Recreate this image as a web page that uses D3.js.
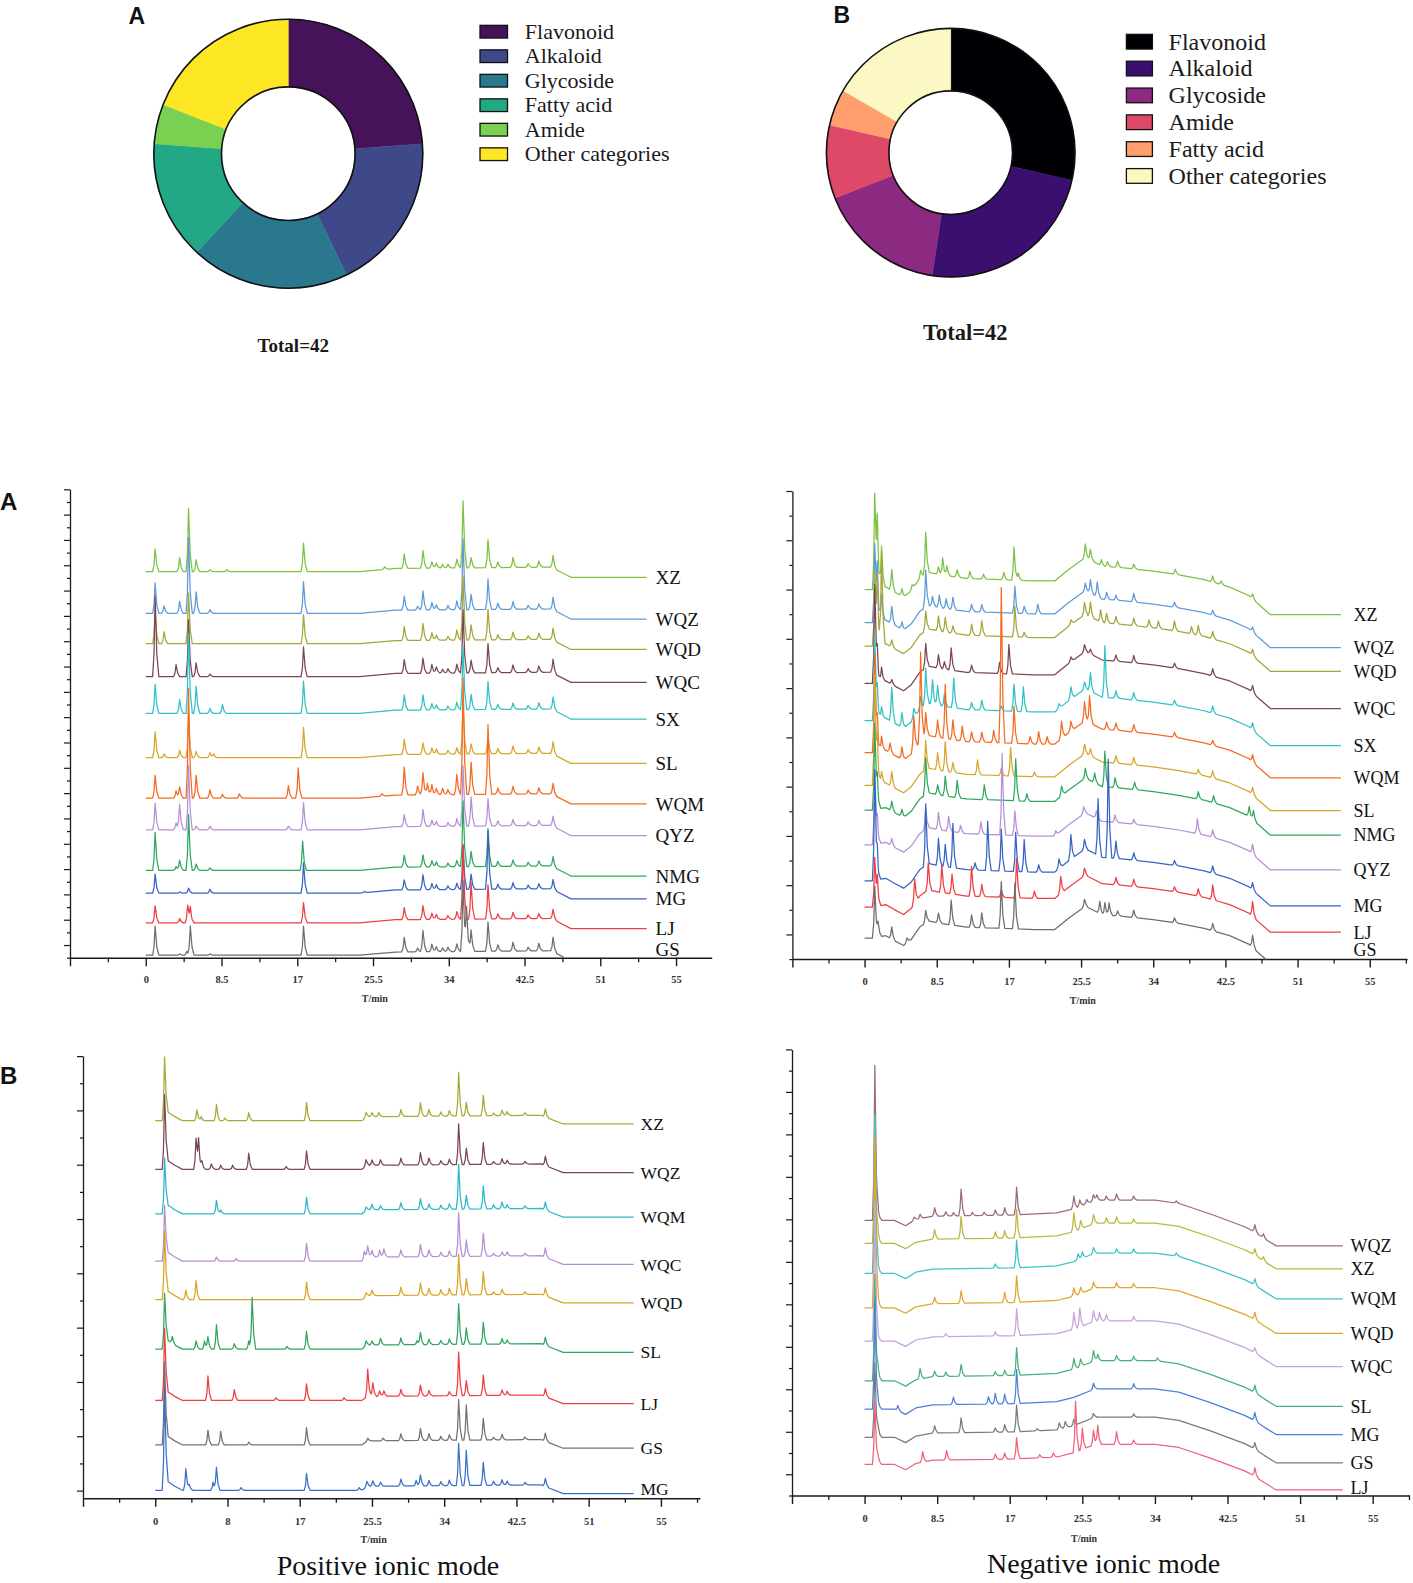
<!DOCTYPE html>
<html>
<head>
<meta charset="utf-8">
<script src="https://cdn.jsdelivr.net/npm/d3@7"></script>
<style>
  body { margin: 0; background: #fff; }
  svg { display: block; }
</style>
</head>
<body>
<div id="figure"></div>
<script>
// ---- donut data ----
const donutCategoriesA = ["Flavonoid", "Alkaloid", "Glycoside", "Fatty acid", "Amide", "Other categories"];
const donutCountsA = [10, 8, 8, 6, 2, 8];
const donutColorsA = ["#46135a", "#3f4889", "#2a788e", "#22a884", "#7ad151", "#fde725"];

const donutCategoriesB = ["Flavonoid", "Alkaloid", "Glycoside", "Amide", "Fatty acid", "Other categories"];
const donutCountsB = [12, 10, 7, 4, 2, 7];
const donutColorsB = ["#000004", "#3b0f70", "#8c2981", "#de4968", "#fe9f6d", "#fcf8c4"];

// ---- chromatogram tick labels ----
const tickLabelsA = ["0", "8.5", "17", "25.5", "34", "42.5", "51", "55"];
const tickLabelsPosB = ["0", "8", "17", "25.5", "34", "42.5", "51", "55"];
const tickLabelsNegB = ["0", "8.5", "17", "25.5", "34", "42.5", "51", "55"];

// ---- A, positive mode ----
const posASamples = ["XZ", "WQZ", "WQD", "WQC", "SX", "SL", "WQM", "QYZ", "NMG", "MG", "LJ", "GS"];
const posAColors = ["#7cc243", "#5d9bd8", "#a4a638", "#7a4652", "#30c2c6", "#d6a62a", "#f46a22", "#b590d8", "#2fa85f", "#3563c6", "#ef3d40", "#6e6e6e"];
const posABase = [30.5, 27.2, 24.8, 22.2, 19.3, 15.8, 12.6, 10.1, 6.9, 5.1, 2.75, 0.2];
const posAEnd = [56.2, 56.2, 56.2, 56.2, 56.2, 56.2, 56.2, 56.2, 56.2, 56.2, 56.2, 46.9];
const posAProfileT = [0, 24, 28, 45.5, 47.7, 56.2];
const posAProfileV = [0, 0, 0.25, 0.35, -0.45, -0.45];
const posAPeaks = [
  [[1.05,1.8],[3.8,1.1],[4.8,5.0],[5.65,0.95],[7.2,0.15],[9.1,0.15],[17.7,2.25],[26.8,0.2],[29.0,1.15],[31.1,1.4],[32.1,0.5],[32.6,0.4],[33.3,0.3],[33.9,0.3],[34.9,0.7],[35.6,5.3],[36.5,0.8],[38.4,2.2],[39.5,0.45],[41.2,0.8],[42.9,0.3],[44.1,0.5],[45.7,1.0]],
  [[1.05,2.4],[2.05,0.6],[3.8,0.95],[4.8,6.0],[5.65,1.7],[7.2,0.3],[17.7,2.5],[29.0,1.1],[30.5,0.3],[31.1,1.5],[32.1,0.6],[32.6,0.4],[33.9,0.35],[34.9,0.7],[35.6,5.6],[36.5,1.2],[38.4,2.4],[39.5,0.5],[41.2,0.6],[42.9,0.3],[44.1,0.4],[45.7,1.0]],
  [[1.05,2.4],[2.05,0.95],[4.8,4.0],[17.7,2.3],[29.0,1.1],[31.1,1.35],[32.1,0.6],[32.6,0.4],[33.9,0.3],[34.9,0.8],[35.6,5.0],[36.5,1.2],[38.4,2.4],[39.5,0.4],[41.2,0.6],[42.9,0.3],[44.1,0.5],[45.7,0.95]],
  [[1.05,6.4],[3.4,0.95],[4.8,4.5],[5.65,1.1],[7.2,0.2],[17.7,2.35],[29.0,1.1],[31.1,1.2],[32.1,0.7],[32.6,0.5],[33.3,0.3],[33.9,0.35],[34.9,0.7],[35.6,5.0],[36.5,1.0],[38.4,2.3],[39.5,0.4],[41.2,0.6],[42.9,0.3],[44.1,0.5],[45.7,1.1]],
  [[1.05,2.3],[3.8,1.1],[4.8,6.3],[5.65,2.15],[7.2,0.4],[8.6,0.7],[17.7,2.55],[29.0,1.2],[31.1,1.2],[32.1,0.5],[32.6,0.4],[33.9,0.3],[34.9,0.6],[35.6,5.0],[36.5,1.2],[38.4,2.2],[39.5,0.4],[41.2,0.5],[42.9,0.3],[44.1,0.5],[45.7,1.0]],
  [[1.05,2.05],[2.05,0.3],[3.8,0.6],[4.8,3.0],[5.65,0.5],[7.2,0.4],[7.6,0.3],[17.7,2.4],[29.0,1.2],[31.1,0.9],[32.1,0.5],[32.6,0.4],[33.9,0.3],[34.9,0.5],[35.6,4.0],[36.5,0.8],[38.4,1.3],[39.5,0.4],[41.2,0.6],[42.9,0.3],[44.1,0.5],[45.7,1.0]],
  [[1.05,1.8],[3.4,0.6],[3.8,0.9],[4.8,8.7],[5.65,1.8],[7.2,0.65],[8.6,0.3],[10.5,0.35],[16.0,1.0],[17.1,2.4],[26.5,0.2],[29.0,2.2],[30.5,0.7],[31.1,1.75],[31.6,0.9],[32.1,0.8],[32.6,0.5],[33.3,0.5],[33.9,0.4],[34.9,1.6],[35.6,9.2],[36.5,2.55],[38.4,5.5],[39.5,0.5],[41.2,0.6],[42.9,0.3],[44.1,0.5],[45.7,0.9]],
  [[1.05,2.1],[3.4,0.55],[3.8,2.0],[4.8,5.1],[5.65,0.3],[7.2,0.3],[16.0,0.3],[17.7,2.15],[29.0,0.95],[31.1,1.35],[32.1,0.5],[32.6,0.4],[33.9,0.3],[34.9,0.6],[35.6,4.8],[36.5,2.3],[38.4,2.15],[39.5,0.4],[41.2,0.5],[42.9,0.3],[44.1,0.4],[45.7,0.8]],
  [[1.05,3.0],[3.4,0.3],[3.8,0.8],[4.8,4.4],[5.65,0.5],[7.2,0.2],[17.6,2.3],[29.0,0.95],[31.1,0.95],[32.1,0.5],[32.6,0.4],[33.9,0.3],[34.9,0.5],[35.6,5.2],[36.5,1.2],[38.4,3.0],[39.5,0.4],[41.2,0.5],[42.9,0.3],[44.1,0.4],[45.7,0.8]],
  [[1.05,1.5],[3.8,0.1],[4.8,0.4],[7.2,0.3],[17.7,2.4],[24.5,0.1],[29.0,0.8],[31.1,1.2],[32.1,0.5],[32.6,0.4],[33.9,0.3],[34.9,0.5],[35.6,3.5],[36.5,1.2],[38.4,4.6],[39.5,0.4],[41.2,0.5],[42.9,0.3],[44.1,0.4],[45.7,0.8]],
  [[1.05,1.35],[3.8,0.35],[4.7,1.4],[5.0,1.1],[17.7,1.6],[29.0,0.95],[31.1,1.1],[32.1,0.5],[32.6,0.4],[33.9,0.3],[34.9,0.6],[35.6,5.9],[36.5,2.9],[38.4,2.7],[39.5,0.4],[41.2,0.5],[42.9,0.3],[44.1,0.4],[45.7,0.8]],
  [[1.05,2.3],[3.8,0.1],[4.6,0.3],[5.0,2.3],[7.2,0.1],[17.7,2.3],[29.0,1.15],[30.5,0.3],[31.1,1.7],[32.1,0.6],[32.6,0.4],[33.3,0.3],[33.9,0.35],[34.9,0.6],[35.6,5.6],[36.0,3.4],[36.5,1.7],[38.4,2.3],[39.5,0.5],[41.2,0.7],[42.9,0.3],[44.1,0.6],[45.7,1.15]]
];

// ---- A, negative mode ----
const negASamples = ["XZ", "WQZ", "WQD", "WQC", "SX", "WQM", "SL", "NMG", "QYZ", "MG", "LJ", "GS"];
const negAColors = ["#7cc243", "#5d9bd8", "#a4a638", "#7a4652", "#30c2c6", "#f46a22", "#d6a62a", "#2fa85f", "#b590d8", "#3563c6", "#ef3d40", "#6e6e6e"];
const negABase = [15.0, 13.66, 12.7, 11.19, 9.68, 8.38, 7.05, 6.05, 4.64, 3.18, 2.11, 0.85];
const negAEnd = [56.1, 56.1, 56.1, 56.1, 56.1, 56.1, 56.1, 56.1, 56.1, 56.1, 56.1, 47.3];
const negAProfileT = [0, 0.9, 2.5, 3.5, 4.6, 5.5, 6.5, 7.5, 9, 12, 16, 20, 22.4, 24, 26, 28, 30, 34, 37, 40, 43, 45.3, 46.4, 47.8, 56.1];
const negAProfileV = [0, 0, 0.1, -0.1, -0.3, -0.05, 0.45, 0.7, 0.6, 0.45, 0.4, 0.35, 0.35, 0.8, 1.3, 0.95, 0.9, 0.75, 0.6, 0.4, 0.1, -0.25, -0.6, -1.02, -1.02];
const negAPeaks = [
  [[1.2,3.9],[1.5,2.5],[2.0,1.7],[3.2,0.85],[4.4,0.3],[5.6,0.2],[6.6,0.3],[7.2,1.7],[8.7,0.3],[9.2,0.7],[9.7,0.4],[10.9,0.3],[12.4,0.3],[14.0,0.2],[16.4,0.3],[17.6,1.35],[18.1,0.3],[26.0,0.55],[26.6,0.45],[27.9,0.25],[28.6,0.2],[29.8,0.25],[31.7,0.2],[36.6,0.2],[41.0,0.25],[42.0,0.15],[45.7,0.2]],
  [[1.2,3.2],[1.5,2.0],[2.0,1.1],[3.2,0.7],[4.4,0.3],[7.2,1.5],[8.0,0.4],[8.8,0.5],[9.6,0.4],[10.4,0.5],[12.6,0.3],[13.8,0.3],[17.7,1.1],[18.8,0.3],[20.4,0.4],[26.0,0.3],[26.6,0.55],[27.4,0.6],[28.5,0.3],[29.6,0.2],[31.7,0.35],[36.5,0.2],[41.0,0.2],[45.7,0.2]],
  [[1.2,3.0],[1.5,2.5],[2.0,3.8],[3.2,0.3],[7.2,0.8],[8.7,0.6],[9.5,0.6],[10.4,0.3],[12.6,0.45],[13.8,0.6],[17.7,1.25],[18.8,0.2],[24.3,0.2],[25.9,0.5],[26.6,0.6],[27.8,0.5],[28.5,0.4],[29.6,0.3],[31.7,0.3],[33.5,0.3],[34.6,0.3],[36.5,0.4],[38.5,0.3],[39.3,0.4],[41.0,0.3],[45.7,0.25]],
  [[1.2,4.0],[1.5,1.0],[2.0,0.6],[3.2,0.2],[7.2,1.0],[8.7,0.55],[9.4,0.3],[10.2,0.9],[12.6,0.3],[15.9,0.45],[17.0,1.2],[24.3,0.2],[25.9,0.3],[26.6,0.2],[29.6,0.25],[31.7,0.3],[36.5,0.2],[41.0,0.3],[45.7,0.3]],
  [[1.2,3.5],[1.5,1.0],[2.0,0.5],[3.2,1.4],[4.4,0.6],[5.8,0.4],[6.6,0.5],[7.2,1.5],[8.0,1.0],[8.6,0.8],[9.4,0.5],[10.5,1.2],[12.6,0.3],[13.8,0.4],[16.1,0.2],[17.6,1.1],[18.7,1.0],[22.9,0.2],[24.3,0.5],[25.9,0.3],[26.6,0.75],[28.3,2.1],[29.6,0.3],[31.7,0.3],[36.5,0.2],[41.0,0.3],[45.7,0.3]],
  [[1.2,4.0],[1.5,1.0],[2.0,0.6],[3.0,0.4],[4.4,0.5],[5.8,1.4],[6.6,3.6],[7.2,1.0],[8.6,0.7],[9.5,2.2],[10.4,0.8],[11.5,0.6],[12.6,0.4],[13.8,0.4],[15.2,0.5],[16.1,6.3],[17.6,1.5],[19.5,0.3],[20.5,0.5],[21.5,0.3],[23.2,0.7],[24.3,0.4],[25.9,0.8],[26.5,1.1],[28.5,0.3],[29.6,0.3],[31.7,0.3],[36.5,0.2],[41.0,0.2],[45.7,0.3]],
  [[1.2,4.5],[1.5,1.5],[2.0,0.5],[3.2,0.6],[7.2,1.2],[8.6,0.7],[9.5,1.2],[10.4,0.4],[13.3,0.6],[16.1,0.3],[17.2,1.15],[20.0,0.2],[25.9,0.4],[26.6,0.3],[29.6,0.3],[31.7,0.3],[39.3,0.2],[41.0,0.3],[45.7,0.3]],
  [[1.2,3.5],[1.5,1.0],[3.2,0.4],[4.4,0.3],[7.2,1.5],[8.6,0.4],[9.5,0.8],[10.9,0.7],[14.1,0.6],[17.8,1.7],[19.1,0.3],[23.2,0.4],[26.0,0.4],[27.1,0.4],[28.3,1.45],[29.5,0.4],[31.8,0.3],[39.3,0.3],[41.1,0.3],[45.3,0.4],[45.8,0.4]],
  [[1.2,3.0],[1.5,0.8],[3.2,0.3],[7.2,0.9],[8.7,0.7],[9.9,0.6],[11.3,0.3],[13.7,0.5],[16.2,3.3],[17.7,1.0],[22.5,0.2],[25.8,0.3],[27.3,0.3],[29.5,0.3],[31.7,0.2],[39.2,0.6],[41.0,0.3],[45.7,0.4]],
  [[1.2,4.5],[1.5,0.8],[7.2,2.5],[8.7,1.1],[9.5,0.9],[10.4,1.8],[13.0,0.3],[14.5,2.0],[16.1,1.7],[17.8,1.6],[18.8,1.3],[20.5,0.3],[22.9,0.4],[24.3,1.0],[25.9,0.4],[27.5,2.3],[28.7,4.0],[29.6,0.7],[31.7,0.3],[36.5,0.2],[41.0,0.3],[45.7,0.3]],
  [[1.2,2.0],[1.5,1.0],[5.9,1.0],[7.5,1.1],[9.1,1.1],[10.3,0.8],[12.6,1.2],[13.8,0.5],[16.1,0.3],[17.9,1.6],[20.0,0.3],[23.1,0.7],[25.9,0.3],[29.6,0.3],[31.7,0.3],[36.5,0.2],[39.3,0.3],[41.0,0.6],[45.7,0.6]],
  [[1.2,2.1],[1.6,0.6],[3.2,0.5],[5.0,0.2],[7.2,0.5],[8.7,0.4],[10.2,1.0],[12.6,0.5],[13.8,0.6],[16.1,1.9],[17.7,1.85],[25.9,0.3],[27.7,0.5],[28.3,0.5],[28.8,0.5],[29.8,0.2],[31.7,0.3],[36.5,0.2],[41.0,0.3],[45.7,0.5]]
];

// ---- B, positive mode ----
const posBSamples = ["XZ", "WQZ", "WQM", "WQC", "WQD", "SL", "LJ", "GS", "MG"];
const posBColors = ["#a8a838", "#7a4652", "#2cb8c8", "#b58fd2", "#d9a422", "#2fa55e", "#ef3d40", "#727272", "#3a6fc8"];
const posBBase = [13.62, 11.83, 10.19, 8.45, 7.03, 5.21, 3.32, 1.68, 0.01];
const posBEnd = [56.3, 56.3, 56.3, 56.3, 56.3, 56.3, 56.3, 56.3, 56.3];
const posBProfileT = [0, 0.9, 1.35, 2.3, 3.2, 24.3, 25.0, 45.4, 48.0, 56.3];
const posBProfileV = [0, 0, 0.35, 0.15, 0, 0, 0.15, 0.2, -0.12, -0.12];
const posBPeaks = [
  [[1.1,2.2],[4.9,0.4],[5.4,0.15],[7.2,0.6],[8.2,0.1],[11.0,0.3],[17.8,0.68],[24.8,0.2],[25.5,0.15],[26.3,0.15],[28.9,0.25],[31.2,0.5],[32.2,0.25],[33.6,0.15],[34.6,0.2],[35.7,1.6],[36.6,0.5],[38.6,0.75],[39.8,0.1],[40.8,0.2],[41.4,0.15],[43.5,0.1],[45.9,0.3]],
  [[1.1,2.6],[4.8,1.15],[5.1,1.0],[5.5,0.3],[6.6,0.2],[7.7,0.15],[9.1,0.15],[11.0,0.6],[15.4,0.1],[17.8,0.68],[24.8,0.25],[25.5,0.2],[26.5,0.2],[28.9,0.25],[31.2,0.45],[32.2,0.25],[33.6,0.15],[34.6,0.2],[35.7,1.5],[36.6,0.6],[38.6,0.8],[39.8,0.1],[40.8,0.2],[41.4,0.15],[43.5,0.1],[45.9,0.35]],
  [[1.1,1.9],[7.2,0.5],[7.7,0.15],[17.8,0.62],[24.8,0.15],[25.5,0.2],[26.5,0.15],[28.9,0.25],[31.2,0.4],[32.2,0.2],[33.6,0.15],[34.6,0.2],[35.7,1.65],[36.6,0.5],[38.6,0.85],[39.8,0.15],[40.8,0.25],[41.4,0.15],[43.5,0.1],[45.9,0.3]],
  [[1.1,1.9],[7.2,0.15],[9.5,0.1],[17.8,0.65],[24.6,0.3],[25.0,0.4],[25.5,0.25],[26.4,0.25],[26.9,0.3],[28.9,0.25],[31.2,0.45],[32.2,0.25],[33.6,0.15],[34.6,0.2],[35.7,1.6],[36.6,0.6],[38.6,0.85],[39.8,0.1],[40.8,0.15],[41.4,0.15],[43.5,0.1],[45.9,0.35]],
  [[1.1,2.4],[3.6,0.35],[4.8,0.7],[17.8,0.65],[24.8,0.15],[25.5,0.2],[28.9,0.3],[31.2,0.45],[32.2,0.25],[33.6,0.2],[34.6,0.25],[35.7,1.5],[36.6,0.6],[38.6,0.85],[39.8,0.1],[40.8,0.2],[43.5,0.1],[45.9,0.3]],
  [[1.1,1.9],[2.0,0.25],[4.8,0.3],[5.8,0.3],[6.2,0.45],[7.2,0.9],[9.3,0.2],[11.0,0.3],[11.4,1.9],[15.5,0.1],[17.8,0.65],[24.8,0.2],[25.5,0.15],[26.5,0.25],[28.9,0.25],[30.8,0.15],[31.2,0.45],[32.2,0.2],[33.6,0.15],[34.6,0.2],[35.7,1.5],[36.6,0.6],[38.6,0.8],[40.8,0.2],[41.4,0.15],[45.9,0.3]],
  [[1.1,2.5],[6.2,0.9],[9.3,0.4],[14.2,0.1],[17.8,0.61],[22.2,0.1],[25.0,1.0],[25.6,0.5],[26.4,0.2],[26.9,0.2],[28.9,0.25],[31.2,0.4],[32.2,0.2],[34.6,0.15],[35.7,1.6],[36.6,0.55],[38.6,0.75],[40.8,0.2],[41.4,0.15],[45.9,0.3]],
  [[1.1,2.9],[6.2,0.55],[7.7,0.5],[11.0,0.1],[17.8,0.64],[25.0,0.1],[26.8,0.1],[28.9,0.25],[31.2,0.45],[32.2,0.25],[33.6,0.15],[34.6,0.2],[35.7,1.5],[36.6,1.3],[38.6,0.8],[39.8,0.1],[40.8,0.2],[43.5,0.1],[45.9,0.3]],
  [[1.1,3.6],[3.6,0.8],[4.0,0.2],[6.8,0.3],[7.2,0.85],[10.1,0.1],[17.8,0.62],[24.0,0.1],[24.9,0.2],[25.6,0.2],[26.5,0.15],[28.9,0.25],[30.7,0.2],[31.2,0.4],[32.2,0.2],[33.6,0.15],[34.6,0.2],[35.7,1.55],[36.6,1.3],[38.6,0.85],[39.8,0.15],[40.8,0.2],[41.4,0.15],[43.5,0.1],[45.9,0.3]]
];

// ---- B, negative mode ----
const negBSamples = ["WQZ", "XZ", "WQM", "WQD", "WQC", "SL", "MG", "GS", "LJ"];
const negBColors = ["#9a6a7c", "#b9b83e", "#3cc3c8", "#dfa52c", "#c7a2dc", "#47b07a", "#4a80d8", "#7a7a7a", "#f0627a"];
const negBBase = [12.95, 11.87, 10.46, 8.83, 7.27, 5.4, 4.07, 2.74, 1.46];
const negBEnd = [56.0, 56.0, 56.0, 56.0, 56.0, 56.0, 56.0, 56.0, 56.0];
const negBProfileT = [0, 3.5, 4.8, 6, 8, 17, 22.5, 24.5, 27, 30, 34, 36.8, 40.5, 44.5, 45.5, 46.8, 48.2, 56];
const negBProfileV = [0, 0, -0.25, 0.05, 0.2, 0.25, 0.35, 0.55, 0.95, 0.95, 0.95, 0.8, 0.3, -0.3, -0.5, -0.85, -1.2, -1.2];
const negBPeaks = [
  [[1.2,7.3],[1.6,0.5],[5.8,0.15],[6.5,0.2],[8.2,0.4],[9.5,0.2],[10.4,0.15],[11.3,1.25],[12.6,0.15],[14.0,0.15],[15.3,0.25],[16.4,0.35],[17.8,1.3],[24.5,0.6],[25.2,0.3],[26.0,0.2],[26.8,0.3],[27.2,0.25],[28.3,0.2],[29.5,0.3],[31.5,0.2],[36.5,0.1],[45.7,0.35],[46.7,0.2]],
  [[1.2,6.0],[1.6,0.5],[8.2,0.45],[11.3,1.05],[15.3,0.3],[16.4,0.35],[17.8,1.35],[24.5,0.9],[25.3,0.4],[26.8,0.45],[28.3,0.25],[29.5,0.3],[31.5,0.2],[45.7,0.3],[46.7,0.2]],
  [[1.2,7.5],[1.6,0.4],[15.3,0.2],[17.8,1.3],[25.0,0.3],[25.5,0.3],[26.8,0.3],[29.5,0.2],[31.5,0.2],[36.5,0.15],[45.7,0.3]],
  [[1.2,8.0],[1.6,0.5],[8.2,0.3],[11.3,0.6],[16.4,0.5],[17.8,1.25],[24.5,0.4],[25.3,0.3],[26.8,0.3],[29.5,0.25],[31.5,0.2],[45.7,0.35]],
  [[1.2,6.5],[1.6,0.3],[9.5,0.15],[15.3,0.2],[17.8,1.25],[24.5,0.8],[25.2,0.9],[26.8,0.5],[27.5,0.4],[28.3,0.3],[31.5,0.2],[45.7,0.25]],
  [[1.2,5.0],[1.6,0.6],[6.5,0.5],[8.2,0.25],[9.5,0.2],[11.3,0.55],[15.3,0.2],[16.4,0.25],[17.8,1.3],[24.5,0.5],[25.3,0.35],[26.8,0.5],[27.3,0.3],[29.5,0.25],[31.5,0.2],[34.3,0.15],[45.7,0.35]],
  [[1.2,5.2],[1.6,0.4],[3.9,0.25],[10.4,0.35],[14.5,0.35],[15.3,0.5],[16.4,0.45],[17.8,1.6],[26.8,0.3],[31.5,0.25],[45.7,0.4]],
  [[1.2,3.5],[1.6,0.5],[8.2,0.35],[11.3,0.7],[15.3,0.2],[16.4,0.35],[17.8,1.25],[20.2,0.1],[22.8,0.3],[23.5,0.3],[24.5,0.3],[26.8,0.2],[31.5,0.15],[45.7,0.3]],
  [[1.2,3.0],[1.6,0.4],[6.8,0.5],[9.6,0.45],[15.3,0.25],[16.4,0.3],[17.8,1.0],[20.5,0.15],[22.1,0.2],[24.7,2.4],[25.5,1.0],[26.8,0.7],[27.3,0.9],[29.5,0.6],[31.5,0.2],[45.7,0.4]]
];

const width = 1413, height = 1583;
const serif = "'Liberation Serif', 'Times New Roman', serif";
const sans = "'Liberation Sans', Arial, sans-serif";

const svg = d3.select("#figure").append("svg")
  .attr("width", width)
  .attr("height", height)
  .style("background", "#fff");

function drawDonut(opts) {
  const g = svg.append("g").attr("transform", `translate(${opts.cx},${opts.cy})`);
  const pie = d3.pie().sort(null).value(d => d);
  const arc = d3.arc().innerRadius(opts.rIn).outerRadius(opts.rOut);

  g.selectAll("path.slice")
    .data(pie(opts.counts))
    .join("path")
    .attr("class", "slice")
    .attr("d", arc)
    .attr("fill", (d, i) => opts.colors[i])
    .attr("stroke", (d, i) => opts.colors[i])
    .attr("stroke-width", 0.5);

  // black rims
  [opts.rOut, opts.rIn].forEach(r => {
    g.append("circle").attr("r", r).attr("fill", "none")
      .attr("stroke", "#111").attr("stroke-width", 1.6);
  });

  const legend = svg.append("g");
  legend.selectAll("rect")
    .data(opts.categories)
    .join("rect")
    .attr("x", opts.legendX)
    .attr("y", (d, i) => opts.legendY + i * opts.legendStep - opts.swatchH / 2)
    .attr("width", opts.swatchW)
    .attr("height", opts.swatchH)
    .attr("fill", (d, i) => opts.colors[i])
    .attr("stroke", "#111")
    .attr("stroke-width", 1.3);

  legend.selectAll("text")
    .data(opts.categories)
    .join("text")
    .attr("x", opts.textX)
    .attr("y", (d, i) => opts.legendY + i * opts.legendStep)
    .attr("dy", "0.33em")
    .attr("font-family", serif)
    .attr("font-size", opts.fontSize)
    .attr("fill", "#1a1a1a")
    .text(d => d);

  svg.append("text")
    .attr("x", opts.totalX)
    .attr("y", opts.totalY)
    .attr("text-anchor", "middle")
    .attr("font-family", serif)
    .attr("font-weight", "bold")
    .attr("font-size", opts.totalSize)
    .attr("fill", "#1a1a1a")
    .text("Total=" + d3.sum(opts.counts));

  svg.append("text")
    .attr("x", opts.letterX)
    .attr("y", opts.letterY)
    .attr("font-family", sans)
    .attr("font-weight", "bold")
    .attr("font-size", 23)
    .attr("fill", "#111")
    .text(opts.letter);
}

drawDonut({
  cx: 288.3, cy: 153.7, rOut: 134.5, rIn: 66.8,
  counts: donutCountsA, categories: donutCategoriesA, colors: donutColorsA,
  legendX: 480, legendY: 31.7, legendStep: 24.5, swatchW: 27.5, swatchH: 12.7,
  textX: 524.8, fontSize: 22,
  totalX: 293.3, totalY: 352, totalSize: 19,
  letter: "A", letterX: 128.5, letterY: 24
});

drawDonut({
  cx: 950.7, cy: 152.7, rOut: 124.3, rIn: 61.8,
  counts: donutCountsB, categories: donutCategoriesB, colors: donutColorsB,
  legendX: 1126.4, legendY: 41.7, legendStep: 26.85, swatchW: 26, swatchH: 14.7,
  textX: 1168.6, fontSize: 24,
  totalX: 965.3, totalY: 340, totalSize: 22.5,
  letter: "B", letterX: 833.5, letterY: 23.3
});

// ---- chromatograms ----
const wl = 0.28, wr = 0.42;
const peakShape = d3.scaleLinear()
  .domain([-wl, -wl * 0.45, 0, wr * 0.45, wr])
  .range([0, 0.28, 1, 0.28, 0])
  .clamp(true);

function traceValues(base, peaks, profile, tEnd) {
  let ts = profile.domain().slice();
  peaks.forEach(([t]) => peakShape.domain().forEach(o => ts.push(t + o)));
  ts.push(0, tEnd);
  ts = Array.from(new Set(ts.filter(t => t >= 0 && t <= tEnd).map(t => +t.toFixed(3))))
    .sort((a, b) => a - b);
  return ts.map(t => [t, base + profile(t) + d3.sum(peaks, ([pt, h]) => h * peakShape(t - pt))]);
}

function drawChromatogram(p) {
  const x = d3.scaleLinear().domain(p.xDomain).range(p.xRange);
  const y = d3.scaleLinear().domain(p.yDomain).range(p.yRange);
  const profile = d3.scaleLinear().domain(p.profileT).range(p.profileV).clamp(true);
  const g = svg.append("g");
  const axisY = y(p.yDomain[0]);

  // y axis
  g.append("g")
    .attr("transform", `translate(${p.xRange[0]},0)`)
    .attr("color", "#1a1a1a")
    .call(d3.axisLeft(y).tickValues(d3.range(0, p.yTicks + 1)).tickFormat("").tickSizeOuter(0))
    .call(a => a.select(".domain").attr("stroke-width", 1.3))
    .call(a => a.selectAll(".tick line")
      .attr("x2", d => d % 2 === p.longParity ? -6 : -3)
      .attr("stroke-width", 1.2));

  // x axis
  const majors = d3.range(0, p.labels.length + 1).map(i => -8.5 + 8.5 * i);
  const minors = majors.map(v => v + 4.25).filter(v => v < p.xDomain[1]);
  g.append("g")
    .attr("transform", `translate(0,${axisY})`)
    .attr("color", "#1a1a1a")
    .call(d3.axisBottom(x).tickValues(minors).tickSize(4.5).tickFormat("").tickSizeOuter(0))
    .call(a => a.select(".domain").remove())
    .call(a => a.selectAll(".tick line").attr("stroke-width", 1.3));
  g.append("g")
    .attr("transform", `translate(0,${axisY})`)
    .attr("color", "#1a1a1a")
    .call(d3.axisBottom(x).tickValues(majors).tickSize(8.5).tickSizeOuter(0)
      .tickFormat((d, i) => i === 0 ? "" : p.labels[i - 1]))
    .call(a => a.select(".domain").attr("stroke-width", 1.5))
    .call(a => a.selectAll(".tick line").attr("stroke-width", 1.4))
    .call(a => a.selectAll(".tick text")
      .attr("y", p.labelOffset)
      .attr("dy", "0.35em")
      .attr("font-family", serif)
      .attr("font-weight", "bold")
      .attr("font-size", 10.5)
      .attr("fill", "#333"));

  g.append("text")
    .attr("x", x(25.7))
    .attr("y", axisY + p.unitOffset)
    .attr("dy", "0.35em")
    .attr("text-anchor", "middle")
    .attr("font-family", serif)
    .attr("font-weight", "bold")
    .attr("font-size", 10)
    .attr("fill", "#333")
    .text("T/min");

  const line = d3.line().x(d => x(d[0])).y(d => y(d[1]));

  p.samples.forEach((name, i) => {
    const vals = traceValues(p.base[i], p.peaks[i], profile, p.end[i]);
    g.append("path")
      .datum(vals)
      .attr("fill", "none")
      .attr("stroke", p.colors[i])
      .attr("stroke-width", 1.25)
      .attr("stroke-linejoin", "round")
      .attr("d", line);
  });

  const tLast = p.profileT[p.profileT.length - 1];
  g.selectAll("text.sample")
    .data(p.samples)
    .join("text")
    .attr("class", "sample")
    .attr("x", x(p.labelT))
    .attr("y", (d, i) => y(Math.max(p.base[i] + profile(tLast), p.labelFloor)))
    .attr("dy", "0.35em")
    .attr("font-family", serif)
    .attr("font-size", p.labelSize)
    .attr("fill", "#111")
    .text(d => d);
}

drawChromatogram({
  samples: posASamples, colors: posAColors, base: posABase, end: posAEnd, peaks: posAPeaks,
  profileT: posAProfileT, profileV: posAProfileV, labels: tickLabelsA,
  xDomain: [-8.5, 63.5], xRange: [70, 711.7],
  yDomain: [0, 37], yRange: [957.7, 489.3], yTicks: 37, longParity: 1,
  labelOffset: 21.5, unitOffset: 41, labelT: 57.2, labelSize: 19, labelFloor: 0.67
});

drawChromatogram({
  samples: negASamples, colors: negAColors, base: negABase, end: negAEnd, peaks: negAPeaks,
  profileT: negAProfileT, profileV: negAProfileV, labels: tickLabelsA,
  xDomain: [-8.5, 63.9], xRange: [792.4, 1407.1],
  yDomain: [0, 19], yRange: [959.1, 491], yTicks: 19, longParity: 1,
  labelOffset: 22.5, unitOffset: 41, labelT: 57.6, labelSize: 18, labelFloor: 0.37
});

drawChromatogram({
  samples: posBSamples, colors: posBColors, base: posBBase, end: posBEnd, peaks: posBPeaks,
  profileT: posBProfileT, profileV: posBProfileV, labels: tickLabelsPosB,
  xDomain: [-8.5, 64.1], xRange: [83, 700],
  yDomain: [-0.284, 16], yRange: [1498.3, 1056.1], yTicks: 16, longParity: 0,
  labelOffset: 23, unitOffset: 41, labelT: 57.1, labelSize: 17.5, labelFloor: 0.05
});

drawChromatogram({
  samples: negBSamples, colors: negBColors, base: negBBase, end: negBEnd, peaks: negBPeaks,
  profileT: negBProfileT, profileV: negBProfileV, labels: tickLabelsNegB,
  xDomain: [-8.5, 63.8], xRange: [792, 1409.4],
  yDomain: [0, 21], yRange: [1495.5, 1049.4], yTicks: 21, longParity: 1,
  labelOffset: 23, unitOffset: 43, labelT: 56.9, labelSize: 18, labelFloor: 0.38
});

// panel letters and mode titles
svg.append("text").attr("x", 0).attr("y", 510)
  .attr("font-family", sans).attr("font-weight", "bold").attr("font-size", 24).attr("fill", "#111")
  .text("A");
svg.append("text").attr("x", 0).attr("y", 1084)
  .attr("font-family", sans).attr("font-weight", "bold").attr("font-size", 24).attr("fill", "#111")
  .text("B");

svg.append("text").attr("x", 388).attr("y", 1575)
  .attr("text-anchor", "middle").attr("font-family", serif).attr("font-size", 28).attr("fill", "#111")
  .text("Positive ionic mode");
svg.append("text").attr("x", 1103.6).attr("y", 1573)
  .attr("text-anchor", "middle").attr("font-family", serif).attr("font-size", 28).attr("fill", "#111")
  .text("Negative ionic mode");
</script>
</body>
</html>
